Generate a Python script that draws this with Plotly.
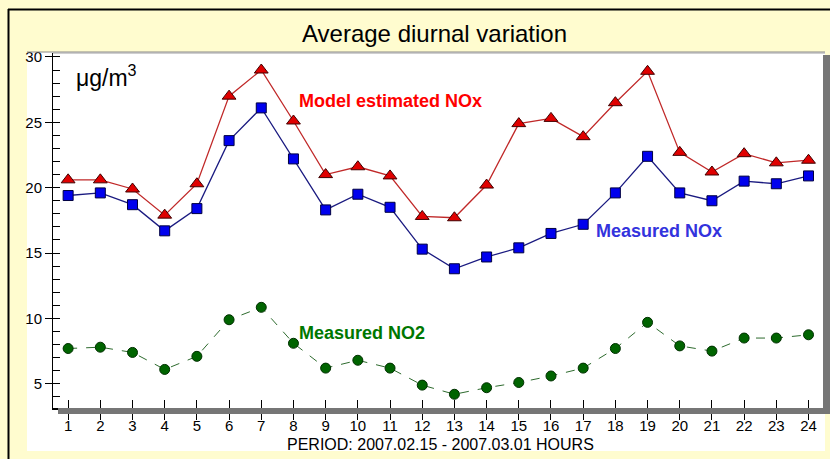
import plotly.graph_objects as go

hours = list(range(1, 25))
model_nox = [20.6, 20.6, 19.9, 17.9, 20.3, 27.0, 29.0, 25.1, 21.0, 21.6, 20.9, 17.8,
             17.7, 20.2, 24.9, 25.3, 23.9, 26.5, 28.9, 22.7, 21.2, 22.6, 21.9, 22.1]
measured_nox = [19.4, 19.6, 18.7, 16.7, 18.4, 23.6, 26.1, 22.2, 18.3, 19.5, 18.5, 15.3,
                13.8, 14.7, 15.4, 16.5, 17.2, 19.6, 22.4, 19.6, 19.0, 20.5, 20.3, 20.9]
measured_no2 = [7.7, 7.8, 7.4, 6.1, 7.1, 9.9, 10.85, 8.1, 6.2, 6.8, 6.2, 4.9,
                4.2, 4.7, 5.1, 5.6, 6.2, 7.7, 9.7, 7.9, 7.5, 8.5, 8.5, 8.75]
y_ticks = [5, 10, 15, 20, 25, 30]

W, H = 830, 459
L, R, T, B = 53, 823, 53, 408
YELLOW = "#FFFCCF"
FONT = "Liberation Sans, Arial, sans-serif"

def px(x):
    return (x - L) / (R - L)

def py(y):
    return (B - y) / (B - T)

fig = go.Figure()

fig.add_trace(go.Scatter(
    x=hours, y=measured_no2, mode="lines+markers",
    line=dict(color="#2E6B2E", width=1, dash="dash"),
    marker=dict(symbol="circle", size=10, color="#006400", line=dict(color="#003000", width=1)),
    showlegend=False))
fig.add_trace(go.Scatter(
    x=hours, y=measured_nox, mode="lines+markers",
    line=dict(color="#1A1A80", width=1.3),
    marker=dict(symbol="square", size=10, color="#0000EE", line=dict(color="#000040", width=1)),
    showlegend=False))
fig.add_trace(go.Scatter(
    x=hours, y=model_nox, mode="lines+markers",
    line=dict(color="#C02828", width=1.3),
    marker=dict(symbol="triangle-up", size=12, color="#E00000", line=dict(color="#400000", width=1)),
    showlegend=False))

shapes = [
    dict(type="rect", xref="paper", yref="paper", x0=px(27), x1=px(825), y0=py(451), y1=py(52),
         fillcolor="white", line=dict(width=0), layer="below"),
    dict(type="line", xref="paper", yref="paper", x0=px(27), x1=px(825), y0=py(52), y1=py(52),
         line=dict(color="#8A8A8A", width=1)),
    dict(type="rect", xref="paper", yref="paper", x0=px(823), x1=px(830), y0=py(414), y1=py(55),
         fillcolor="#767676", line=dict(width=0)),
    dict(type="rect", xref="paper", yref="paper", x0=px(58), x1=px(830), y0=py(414), y1=py(408),
         fillcolor="#767676", line=dict(width=0)),
    dict(type="line", xref="paper", yref="paper", x0=px(8.5), x1=px(8.5), y0=py(460), y1=py(9),
         line=dict(color="black", width=2)),
    dict(type="line", xref="paper", yref="paper", x0=px(8), x1=px(831), y0=py(9.5), y1=py(9.5),
         line=dict(color="black", width=2)),
]

annotations = [
    dict(text="Average diurnal variation", x=px(434), y=py(33), xref="paper", yref="paper",
         showarrow=False, font=dict(family=FONT, size=24, color="black"), xanchor="center", yanchor="middle"),
    dict(text="μg/m<sup>3</sup>", x=px(74), y=py(76), xref="paper", yref="paper",
         showarrow=False, font=dict(family=FONT, size=23, color="black"), xanchor="left", yanchor="middle"),
    dict(text="<b>Model estimated NOx</b>", x=px(297), y=py(101), xref="paper", yref="paper",
         showarrow=False, font=dict(family=FONT, size=18, color="#FF0000"), xanchor="left", yanchor="middle"),
    dict(text="<b>Measured NOx</b>", x=px(594), y=py(231), xref="paper", yref="paper",
         showarrow=False, font=dict(family=FONT, size=18, color="#3333DD"), xanchor="left", yanchor="middle"),
    dict(text="<b>Measured NO2</b>", x=px(297), y=py(333), xref="paper", yref="paper",
         showarrow=False, font=dict(family=FONT, size=18, color="#007700"), xanchor="left", yanchor="middle"),
    dict(text="PERIOD: 2007.02.15 - 2007.03.01 HOURS", x=px(440), y=py(444), xref="paper", yref="paper",
         showarrow=False, font=dict(family=FONT, size=16, color="black"), xanchor="center", yanchor="middle"),
]

xr = [0.53, 24.45]
yr = [3.15, 30.3]

fig.update_layout(
    width=W, height=H,
    margin=dict(l=L, r=W - R, t=T, b=H - B),
    paper_bgcolor=YELLOW, plot_bgcolor="white",
    font=dict(family=FONT, size=15, color="black"),
    shapes=shapes, annotations=annotations,
    xaxis=dict(range=xr, tickmode="array", tickvals=hours, ticktext=[str(h) for h in hours],
               showgrid=False, zeroline=False, showline=True, linecolor="black", linewidth=1.5,
               ticks="outside", ticklen=10, tickcolor="black", tickwidth=1, ticklabelstandoff=-7,
               tickfont=dict(family=FONT, size=15, color="black")),
    xaxis2=dict(range=xr, overlaying="x", side="bottom", anchor="y", tickmode="array", tickvals=hours,
                showticklabels=False, showgrid=False, zeroline=False, showline=False,
                ticks="inside", ticklen=8, tickcolor="black", tickwidth=1),
    yaxis=dict(range=yr, tickmode="array", tickvals=y_ticks, ticktext=[str(v) for v in y_ticks],
               showgrid=False, zeroline=False, showline=True, linecolor="black", linewidth=1,
               ticks="outside", ticklen=7, tickcolor="black", tickwidth=1,
               minor=dict(dtick=1, tick0=0, ticks="inside", ticklen=7, tickcolor="black", tickwidth=1, showgrid=False),
               tickfont=dict(family=FONT, size=15, color="black")),
    yaxis2=dict(range=yr, overlaying="y", side="left", anchor="x", tickmode="array", tickvals=y_ticks,
                showticklabels=False, showgrid=False, zeroline=False, showline=False,
                ticks="inside", ticklen=7, tickcolor="black", tickwidth=1),
)

fig.add_trace(go.Scatter(x=[hours[0]], y=[y_ticks[0]], xaxis="x2", yaxis="y2", mode="markers",
                         marker=dict(opacity=0), showlegend=False, hoverinfo="skip"))

fig.add_shape(type="line", xref="paper", yref="paper", x0=0, x1=px(825), y0=1, y1=1,
              line=dict(color="#A0A0A0", width=1))

fig.write_html("out.html")
